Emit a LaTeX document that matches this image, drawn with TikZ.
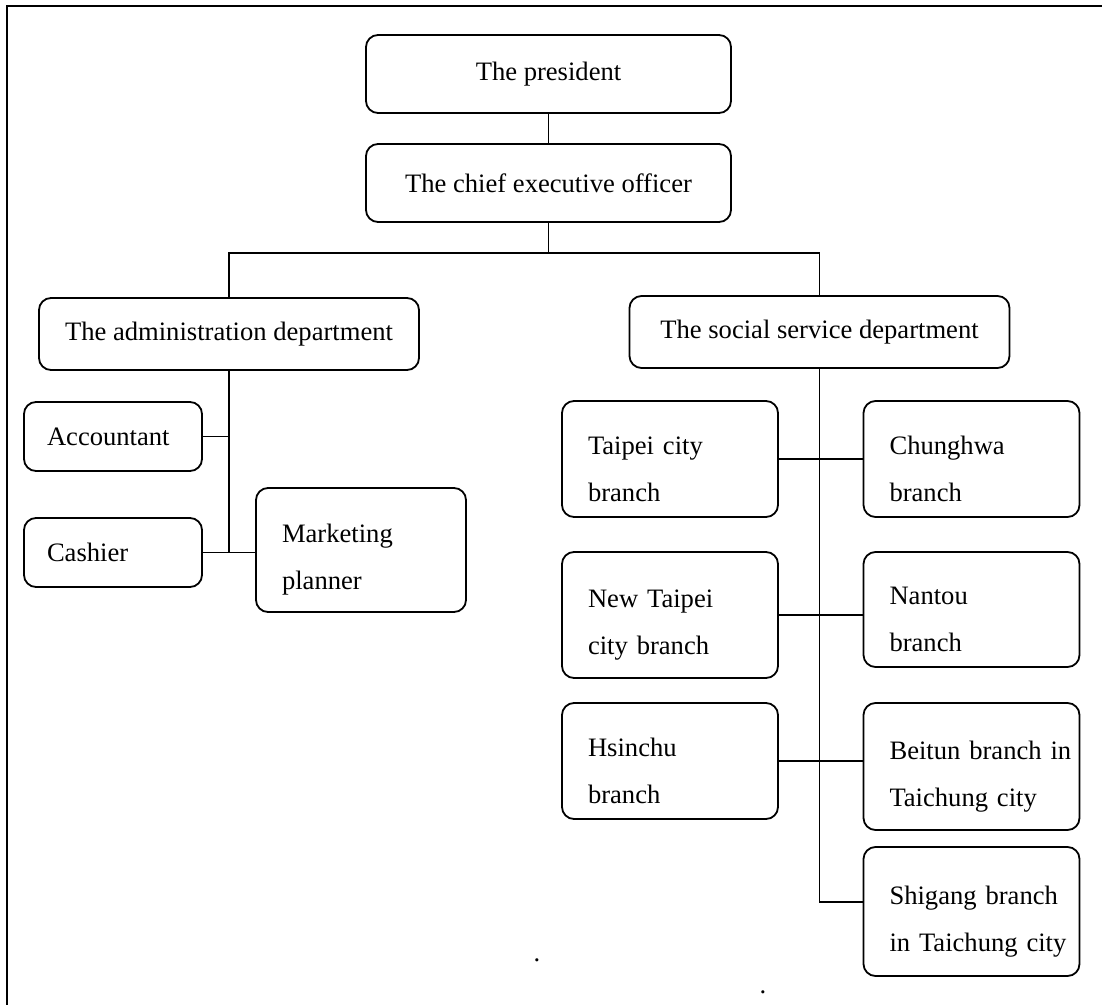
\documentclass[tikz,border=0pt]{standalone}
\usepackage{fontspec}
\setmainfont{Liberation Serif}
\usetikzlibrary{positioning}

\begin{document}
\begin{tikzpicture}[x=0.5pt,y=-0.5pt,line width=0.9pt,
  every node/.style={font=\fontsize{13.3pt}{23.5pt}\selectfont},
  post/.style={draw,rounded corners=6pt,line width=0.9pt},
  headpost/.style={post,align=center,minimum width=182.5pt,minimum height=39pt},
  deptpost/.style={post,align=center,minimum width=190pt,minimum height=36pt},
  staffpost/.style={post,align=left,text width=66pt,inner xsep=11.5pt,minimum height=34.5pt},
  branchpost/.style={post,align=left,text width=106pt,inner xsep=1pt,
    execute at begin node={\leftskip=12pt\rule{0pt}{19pt}}}]

  \useasboundingbox (0,0) rectangle (1102,1005);
  \draw[line width=1.3pt] (7,1005) -- (7,6) -- (1102,6);

  \node[headpost] (1) at (548.5,74) {The president};
  \node[headpost] (2) at (548.5,183) {The chief executive officer};
  \node[deptpost] (3) at (229,334) {The administration department};
  \node[deptpost] (4) at (819.5,332) {The social service department};
  \node[staffpost] (5) at (113,436.5) {Accountant};
  \node[staffpost] (6) at (113,552.5) {Cashier};
  \node[branchpost,text width=103pt,minimum height=62pt] (7) at (361,550) {Marketing\\planner};
  \node[branchpost,minimum height=58pt] (8) at (670,459) {Taipei city\\branch};
  \node[branchpost,minimum height=58pt] (9) at (971.5,459) {Chunghwa\\branch};
  \node[branchpost,minimum height=63pt] (10) at (670,615) {New Taipei\\city branch};
  \node[branchpost,minimum height=57.5pt] (11) at (971.5,609.5) {Nantou\\branch};
  \node[branchpost,minimum height=58pt] (12) at (670,761) {Hsinchu\\branch};
  \node[branchpost,minimum height=63.5pt] (13) at (971.5,766.5) {Beitun branch in\\Taichung city};
  \node[branchpost,minimum height=64.5pt] (14) at (971.5,911.5) {Shigang branch\\in Taichung city};

  \node[inner sep=0pt] (d1) at (537,960) {.};
  \node[inner sep=0pt] (d2) at (763,992) {.};

  \coordinate (bus) at (548.5,253);
  \path (1) edge (2);
  \draw (2.south) -- (bus);
  \draw (3.north) |- (bus) -| (4.north);
  \draw (3.south) |- (6.east);
  \draw (5.east) -- (5.east -| 3.south);
  \draw (6.east) -- (6.east -| 7.west);
  \draw (4.south) |- ([yshift=4.75pt]14.west);
  \draw (8.east) -- (9.west);
  \draw (10.east) -- (10.east -| 11.west);
  \draw (12.east) -- (12.east -| 13.west);

\end{tikzpicture}
\end{document}
